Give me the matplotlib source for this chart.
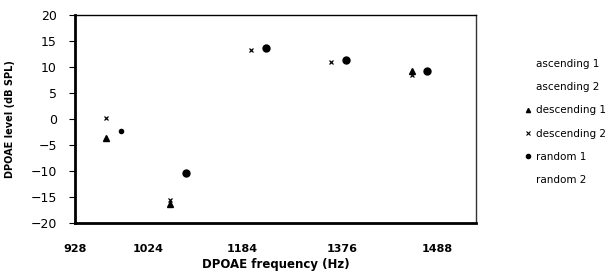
import matplotlib
matplotlib.use('Agg')
import matplotlib.pyplot as plt
from matplotlib.lines import Line2D

# x positions are in plot units (axis runs 0..10)
tick_pos = [0, 1.82, 4.16, 6.66, 9.03]
tick_labels = ['928', '1024', '1184', '1376', '1488']

desc1_x = [0.77, 2.37, 8.40]
desc1_y = [-3.6, -16.4, 9.2]

desc2_x = [0.77, 2.37, 4.39, 6.38, 8.40]
desc2_y = [0.2, -15.5, 13.3, 11.0, 8.4]

rand1_x = [1.15, 2.77, 4.76, 6.76, 8.78]
rand1_y = [-2.4, -10.3, 13.7, 11.4, 9.2]
rand1_size = [3, 5, 5, 5, 5]

legend_labels = ['ascending 1', 'ascending 2', 'descending 1',
                 'descending 2', 'random 1', 'random 2']

fig = plt.figure(figsize=(6.16, 2.74), dpi=100)
ax = fig.add_axes([0.1218, 0.1861, 0.6510, 0.7591])

ax.plot(desc1_x, desc1_y, linestyle='none', marker='^', color='black',
        markersize=4.5)
ax.plot(desc2_x, desc2_y, linestyle='none', marker='x', color='black',
        markersize=3.5, markeredgewidth=0.9)
for x, y, s in zip(rand1_x, rand1_y, rand1_size):
    ax.plot([x], [y], linestyle='none', marker='o', color='black',
            markersize=s)

ax.set_xlim(0, 10)
ax.set_ylim(-20, 20)
ax.set_yticks(range(-20, 21, 5))
ax.set_xticks(tick_pos)
ax.set_xticklabels(tick_labels, fontweight='bold', fontsize=8)
ax.tick_params(axis='x', length=0, pad=15)
ax.tick_params(axis='y', direction='out', length=4, width=0.8,
               labelsize=9, pad=9)

ax.spines['left'].set_linewidth(2)
ax.spines['bottom'].set_linewidth(2)
ax.spines['top'].set_linewidth(1)
ax.spines['right'].set_linewidth(1)
ax.spines['right'].set_color('#333333')

ax.set_xlabel('DPOAE frequency (Hz)', fontweight='bold', fontsize=8.5,
              labelpad=3)
ax.set_ylabel('DPOAE level (dB SPL)', fontweight='bold', fontsize=7)
ax.yaxis.set_label_coords(-0.15, 0.5)

handles = [
    Line2D([], [], linestyle='none', marker='none'),
    Line2D([], [], linestyle='none', marker='none'),
    Line2D([], [], linestyle='none', marker='^', color='black', markersize=3),
    Line2D([], [], linestyle='none', marker='x', color='black', markersize=3,
           markeredgewidth=0.8),
    Line2D([], [], linestyle='none', marker='o', color='black', markersize=3),
    Line2D([], [], linestyle='none', marker='none'),
]
fig.legend(handles, legend_labels, loc='upper left',
           bbox_to_anchor=(0.852, 0.783), frameon=False, fontsize=7.5,
           handlelength=0.6, handletextpad=0.5, labelspacing=1.25,
           borderpad=0, borderaxespad=0)

fig.savefig('out.png', dpi=100)
